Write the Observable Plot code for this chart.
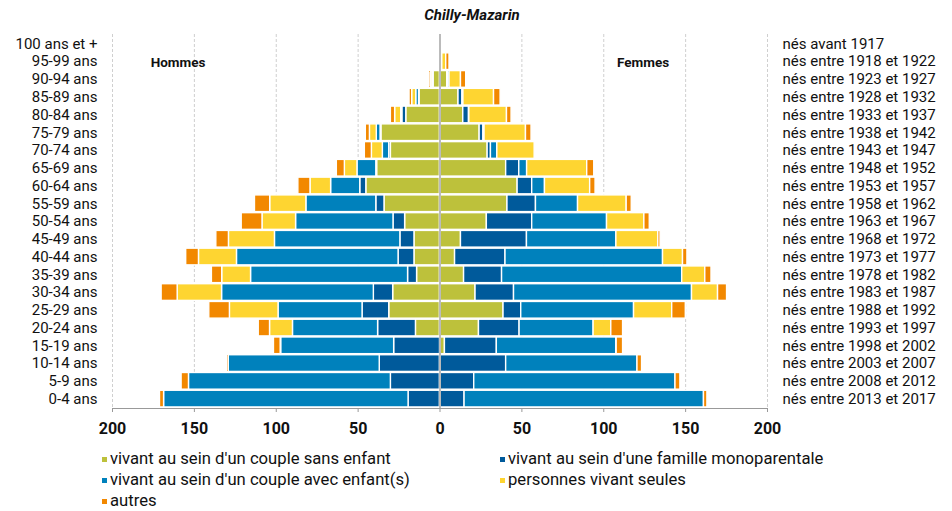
<!DOCTYPE html>
<html><head><meta charset="utf-8">
<script src="https://cdn.jsdelivr.net/npm/d3@7"></script>
<script src="https://cdn.jsdelivr.net/npm/@observablehq/plot@0.6"></script>
<style>
html,body{margin:0;padding:0;background:#fff;font-family:Roboto,sans-serif;color:#111;overflow:hidden;}
#wrap{width:952px;position:relative;}
#title{height:26px;line-height:30px;text-align:center;font-weight:bold;font-style:italic;font-size:15px;padding-right:8px;box-sizing:border-box;}
#chart svg{display:block;}
#legend{position:relative;height:71px;}
.item{position:absolute;height:20px;line-height:20px;white-space:nowrap;font-size:16px;}
.sw{position:absolute;left:0;top:8px;width:5px;height:5px;}
.lt{position:absolute;left:8px;top:0;white-space:nowrap;}
</style>
</head><body>
<div id="wrap">
<div id="title">Chilly-Mazarin</div>
<div id="chart"></div>
<div id="legend"></div>
</div>
<script>
const ages = ["100 ans et +","95-99 ans","90-94 ans","85-89 ans","80-84 ans","75-79 ans","70-74 ans","65-69 ans","60-64 ans","55-59 ans","50-54 ans","45-49 ans","40-44 ans","35-39 ans","30-34 ans","25-29 ans","20-24 ans","15-19 ans","10-14 ans","5-9 ans","0-4 ans"];
const births = ["nés avant 1917","nés entre 1918 et 1922","nés entre 1923 et 1927","nés entre 1928 et 1932","nés entre 1933 et 1937","nés entre 1938 et 1942","nés entre 1943 et 1947","nés entre 1948 et 1952","nés entre 1953 et 1957","nés entre 1958 et 1962","nés entre 1963 et 1967","nés entre 1968 et 1972","nés entre 1973 et 1977","nés entre 1978 et 1982","nés entre 1983 et 1987","nés entre 1988 et 1992","nés entre 1993 et 1997","nés entre 1998 et 2002","nés entre 2003 et 2007","nés entre 2008 et 2012","nés entre 2013 et 2017"];
const cats = ["vivant au sein d'un couple sans enfant","vivant au sein d'une famille monoparentale","vivant au sein d'un couple avec enfant(s)","personnes vivant seules","autres"];
const colors = ["#bdc13b","#005a9b","#0081bc","#fed531","#f28800"];

// Hommes (men), top row = 100 ans et +
const hommesSansEnfant = [0,0,3.9,12.5,20.6,35.8,30.0,38.4,45.0,33.9,21.3,15.6,15.6,14.0,28.6,31.0,14.7,0,0,0,0];
const hommesMono       = [0,0,0.3,0.3,2.4,0.5,1.0,0.5,3.7,5.0,7.1,8.6,9.7,5.5,11.8,16.3,23.1,28.0,36.8,30.0,19.2];
const hommesAvec       = [0,0,0.5,1.7,0.7,2.3,3.9,11.5,17.8,42.7,59.5,76.6,98.7,95.9,92.7,51.3,52.0,69.0,92.2,123.3,149.3];
const hommesSeules     = [0,0,1.0,2.5,3.7,4.2,6.7,7.7,12.6,22.1,20.5,28.1,23.2,17.6,27.1,29.7,14.0,0.3,0,0,0];
const hommesAutres     = [0,0,0.9,1.6,2.6,2.5,4.3,4.9,7.4,9.3,12.7,7.7,7.8,6.3,9.8,12.6,6.9,4.1,1.0,4.5,2.5];

// Femmes (women)
const femmesSansEnfant = [0,0.9,4.4,11.3,14.2,24.2,29.1,40.4,47.4,41.2,28.6,12.8,9.2,14.7,21.7,38.8,23.8,3.0,0,0,0];
const femmesMono       = [0,0,0.4,2.4,3.5,2.3,2.0,8.0,8.9,17.4,27.7,40.3,30.8,23.2,23.5,10.8,24.8,31.7,40.4,20.9,15.0];
const femmesAvec       = [0,0.5,1.0,0.6,0.2,0.7,3.9,4.8,7.8,25.7,45.7,54.6,96.2,110.0,108.7,68.9,45.2,72.9,80.2,122.9,146.2];
const femmesSeules     = [0,2.4,7.0,18.7,23.0,25.3,22.8,36.7,27.6,29.7,22.8,25.6,12.2,14.1,15.9,23.3,10.8,0.3,0,0,0];
const femmesAutres     = [0,2.0,3.2,4.0,2.8,3.4,0,4.3,3.3,3.1,3.3,1.4,2.7,3.8,5.5,8.3,7.2,3.9,2.8,3.0,2.1];

const xTicks = [-200,-150,-100,-50,0,50,100,150,200];
const gridTicks = [-200,-150,-100,-50,50,100,150,200];
const sexLabels = ["Hommes","Femmes"];
const sexLabelX = [-160,124];
const sexLabelRow = ["95-99 ans","95-99 ans"];

const hommes = [hommesSansEnfant,hommesMono,hommesAvec,hommesSeules,hommesAutres];
const femmes = [femmesSansEnfant,femmesMono,femmesAvec,femmesSeules,femmesAutres];
const rows = [];
ages.forEach((a,i)=>{
  cats.forEach((c,j)=>{
    rows.push({age:a, cat:c, value:-hommes[j][i]});
    rows.push({age:a, cat:c, value:femmes[j][i]});
  });
});
const annot = sexLabels.map((t,i)=>({t, x:sexLabelX[i], y:sexLabelRow[i]}));

const plot = Plot.plot({
  width: 952, height: 414,
  marginLeft: 112, marginRight: 185, marginTop: 8, marginBottom: 32,
  x: {domain: [-200, 200]},
  y: {domain: ages, padding: 0.06, round: false},
  color: {domain: cats, range: colors},
  style: {fontFamily: "Roboto, sans-serif", fontSize: "15px", color: "#111", background: "#fff"},
  marks: [
    Plot.gridX(gridTicks, {stroke: "#cfcfcf", strokeOpacity: 1, strokeDasharray: "3,2"}),
    Plot.barX(rows, Plot.stackX({x: "value", y: "age", fill: "cat", order: cats, stroke: "white", strokeWidth: 1.4})),
    Plot.ruleX([0], {stroke: "#bbb", strokeWidth: 2}),
    Plot.axisY({anchor: "left", tickSize: 0, tickPadding: 15, label: null, fontSize: 15}),
    Plot.axisY({anchor: "right", tickSize: 0, tickPadding: 15, label: null, fontSize: 15, tickFormat: d => births[ages.indexOf(d)]}),
    Plot.axisX({ticks: xTicks, tickFormat: d => Math.abs(d), tickSize: 4, tickPadding: 10, stroke: "#999", fontWeight: "bold", fontSize: 16, label: null}),
    Plot.frame({anchor: "bottom", stroke: "#999"}),
    Plot.text(annot, {x: "x", y: "y", text: "t", fontWeight: "bold", fontSize: 13.5, dy: 1})
  ]
});
document.getElementById("chart").appendChild(plot);

// legend
const legend = document.getElementById("legend");
const colLeft = [102, 500];
const rowTop = [9, 30, 51];
const items = [];
cats.forEach((c,i)=>{
  const d = document.createElement("div");
  d.className = "item";
  d.style.left = colLeft[i % 2] + "px";
  d.style.top = rowTop[Math.floor(i / 2)] + "px";
  const sw = document.createElement("span"); sw.className = "sw"; sw.style.background = colors[i];
  const lt = document.createElement("span"); lt.className = "lt"; lt.textContent = c;
  d.appendChild(sw); d.appendChild(lt);
  legend.appendChild(d);
  items.push(lt);
});
const w0 = items[0].getBoundingClientRect().width;
if (w0 > 0) {
  const fs = 16 * 281 / w0;
  document.querySelectorAll(".item").forEach(el => el.style.fontSize = fs + "px");
}
</script>
</body></html>
